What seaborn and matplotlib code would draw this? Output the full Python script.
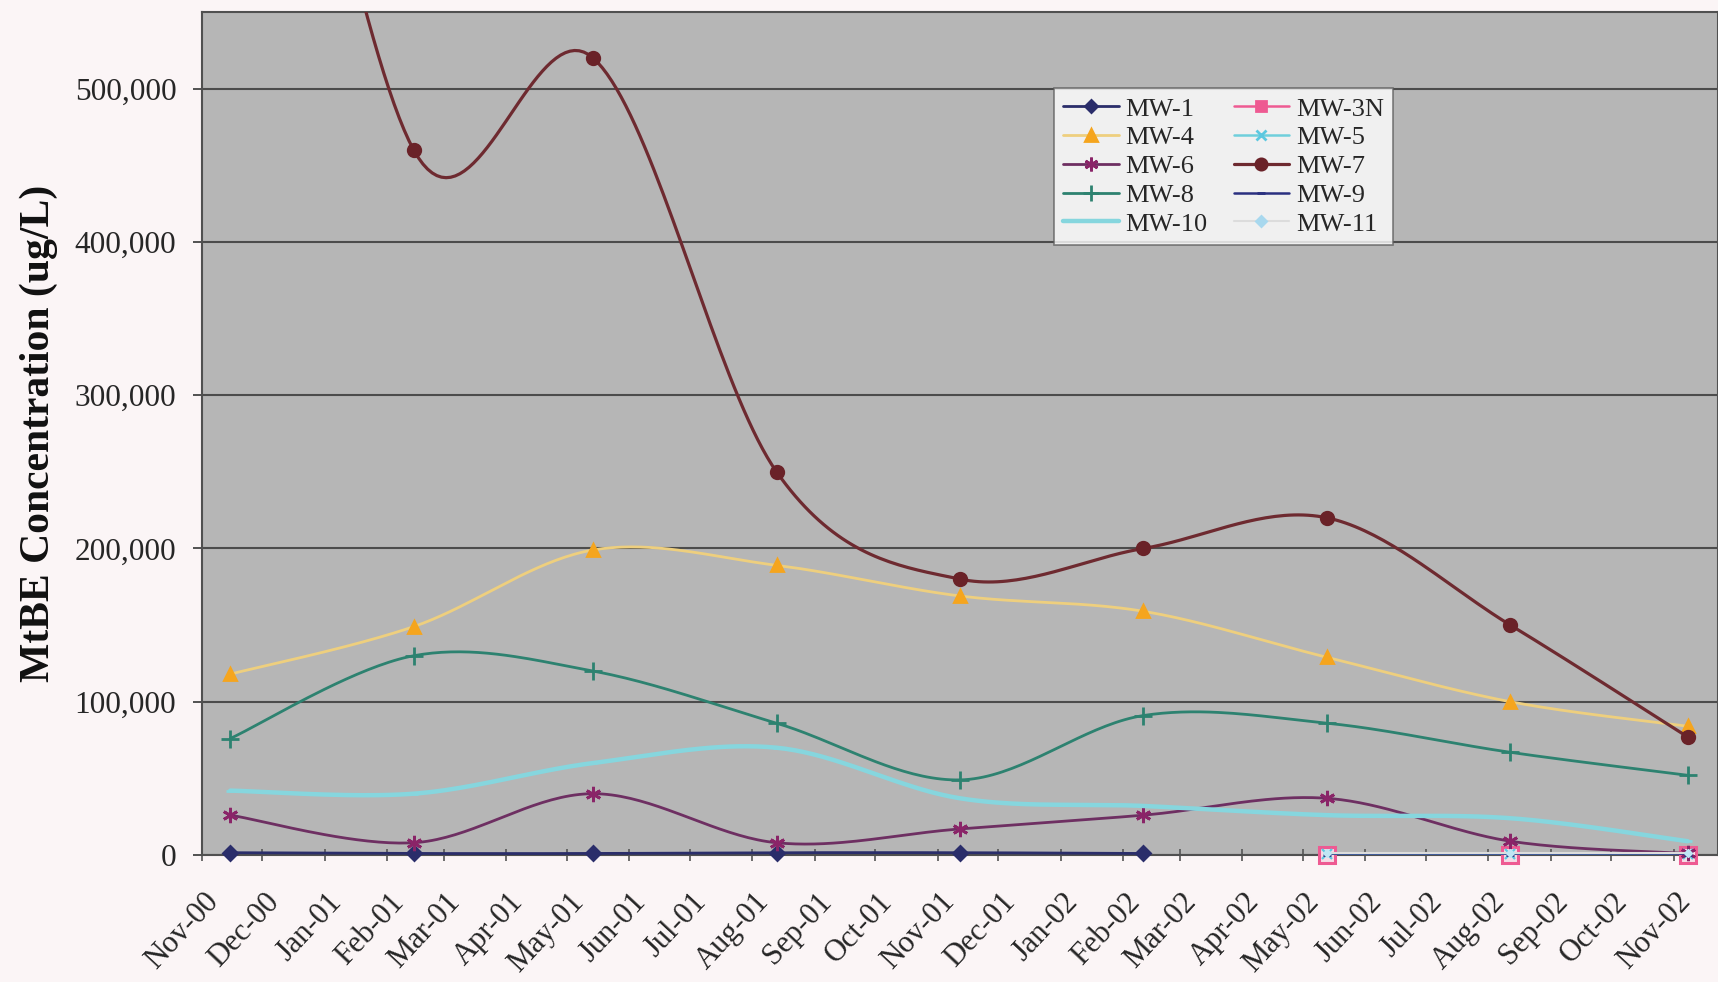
import numpy as np
import pandas as pd
import matplotlib
matplotlib.use("Agg")
import matplotlib.pyplot as plt
import matplotlib.dates as mdates
from matplotlib.lines import Line2D
from matplotlib.ticker import FuncFormatter, FixedLocator
from matplotlib.transforms import ScaledTranslation
import seaborn as sns

# Quarterly sampling events
sample_dates = ["2000-11-15", "2001-02-14", "2001-05-14", "2001-08-13", "2001-11-12",
                "2002-02-11", "2002-05-13", "2002-08-12", "2002-11-08"]

wells = ["MW-1", "MW-3N", "MW-4", "MW-5", "MW-6", "MW-7", "MW-8", "MW-9", "MW-10", "MW-11"]

nan = np.nan
mw1 = [1500, 1000, 1000, 1500, 1500, 1000, nan, nan, nan]
mw3n = [nan, nan, nan, nan, nan, nan, 0, 0, 0]
mw4 = [118000, 149000, 199000, 189000, 169000, 159000, 129000, 100000, 84000]
mw5 = [nan, nan, nan, nan, nan, nan, 500, 500, 500]
mw6 = [26000, 8000, 40000, 8000, 17000, 26000, 37000, 9000, 1000]
mw7 = [950000, 460000, 520000, 250000, 180000, 200000, 220000, 150000, 77000]
mw8 = [76000, 130000, 120000, 86000, 49000, 91000, 86000, 67000, 52000]
mw9 = [nan, nan, nan, nan, nan, nan, 0, 0, 0]
mw10 = [42000, 40000, 60000, 70000, 37000, 32000, 26000, 24000, 9000]
mw11 = [nan, nan, nan, nan, nan, nan, 1000, 1000, 1000]

y_ticks = [0, 100000, 200000, 300000, 400000, 500000]
Y_MAX = 550000

series = dict(zip(wells, [mw1, mw3n, mw4, mw5, mw6, mw7, mw8, mw9, mw10, mw11]))

# line colour, marker, marker face / edge colour, marker size, line width
styles = {
    "MW-1":  dict(c="#2a2d6a", m="D", fc="#2a2d6a", ec="#2a2d6a", ms=7, lw=2.0),
    "MW-3N": dict(c="#ee5a92", m="s", fc="#ee5a92", ec="#ee5a92", ms=8, lw=1.8),
    "MW-4":  dict(c="#eecf7e", m="^", fc="#f5a51e", ec="#f5a51e", ms=9, lw=2.0),
    "MW-5":  dict(c="#6fcfdc", m="x", fc="#5cc8e0", ec="#5cc8e0", ms=8, lw=1.8),
    "MW-6":  dict(c="#6e2f62", m=(6, 2, 0), fc="#8a2468", ec="#8a2468", ms=11, lw=2.0),
    "MW-7":  dict(c="#6e2a30", m="o", fc="#6a2228", ec="#6a2228", ms=9, lw=2.3),
    "MW-8":  dict(c="#2d8270", m="+", fc="#2d8270", ec="#2d8270", ms=13, lw=2.0),
    "MW-9":  dict(c="#2a3080", m="_", fc="#2a3080", ec="#2a3080", ms=6, lw=1.8),
    "MW-10": dict(c="#86d6de", m="_", fc="#86d6de", ec="#86d6de", ms=6, lw=3.2),
    "MW-11": dict(c="#dcdcdc", m="D", fc="#a8d8ee", ec="#a8d8ee", ms=6, lw=1.5),
}

# marker look on the chart itself where several new wells share the zero line
chart_marker = {
    "MW-3N": dict(ms=11, fc="#f4dce6", ec="#ee5a92", mew=2.2),
    "MW-5": dict(ms=7, fc="#5cc8e0", ec="#5cc8e0", mew=1.6),
    "MW-11": dict(ms=4, fc="#bfe6f4", ec="#bfe6f4", mew=1.0),
}


def smooth_curve(x, y, n=40):
    """Catmull-Rom style cubic Bezier through the points (spreadsheet 'smoothed line')."""
    pts = np.column_stack([x, y]).astype(float)
    segs = []
    for i in range(len(pts) - 1):
        p0 = pts[max(i - 1, 0)]
        p1 = pts[i]
        p2 = pts[i + 1]
        p3 = pts[min(i + 2, len(pts) - 1)]
        c1 = p1 + (p2 - p0) / 6.0
        c2 = p2 - (p3 - p1) / 6.0
        t = np.linspace(0, 1, n)[:, None]
        seg = (1 - t) ** 3 * p1 + 3 * (1 - t) ** 2 * t * c1 + 3 * (1 - t) * t ** 2 * c2 + t ** 3 * p2
        segs.append(seg if i == 0 else seg[1:])
    return np.vstack(segs)


sns.set_theme(style="white")
plt.rcParams["font.family"] = ["Liberation Serif", "DejaVu Serif"]

W, H = 1718, 982
fig = plt.figure(figsize=(W / 100, H / 100), dpi=100)
fig.patch.set_facecolor("#fbf5f6")

ax_left, ax_right, ax_top, ax_bottom = 202, 1718, 12, 855
ax = fig.add_axes([ax_left / W, 1 - ax_bottom / H, (ax_right - ax_left) / W, (ax_bottom - ax_top) / H])
ax.set_facecolor("#b6b6b6")

xnum = mdates.date2num(pd.to_datetime(sample_dates))

for z, well in enumerate(wells):
    vals = np.array(series[well], dtype=float)
    ok = ~np.isnan(vals)
    xs, ys = xnum[ok], vals[ok]
    st = styles[well]
    if len(xs) > 1:
        curve = smooth_curve(xs, ys)
        df = pd.DataFrame({"x": curve[:, 0], "y": curve[:, 1]})
        sns.lineplot(data=df, x="x", y="y", ax=ax, color=st["c"], linewidth=st["lw"],
                     sort=False, estimator=None, zorder=3 + z)
    cm = chart_marker.get(well, dict(ms=st["ms"], fc=st["fc"], ec=st["ec"], mew=2))
    # markers sitting on the axis line are drawn whole, not cut in half
    ax.plot(xs, ys, linestyle="none", marker=st["m"], markersize=cm["ms"],
            markerfacecolor=cm["fc"], markeredgecolor=cm["ec"], markeredgewidth=cm["mew"],
            zorder=3.5 + z, clip_on=bool(ys.max() > Y_MAX))

# axes ranges
ax.set_xlim(mdates.date2num(pd.Timestamp("2000-11-01")), mdates.date2num(pd.Timestamp("2002-11-23")))
ax.set_ylim(0, Y_MAX)

# y axis
ax.yaxis.set_major_locator(FixedLocator(y_ticks))
ax.yaxis.set_major_formatter(FuncFormatter(lambda v, p: f"{int(v):,}"))
ax.grid(axis="y", color="#4c4c4c", linewidth=1.5, zorder=1)
ax.set_axisbelow(True)
ax.tick_params(axis="y", direction="out", length=6.5, width=1.3, color="#444444",
               labelsize=22.5, pad=12, left=True)

# x axis: month ticks
month_ticks = pd.date_range("2000-11-01", "2002-11-01", freq="MS")
ax.set_xticks(mdates.date2num(month_ticks))
ax.set_xticklabels([d.strftime("%b-%y") for d in month_ticks])
ax.tick_params(axis="x", direction="inout", length=9, width=1.2, color="#555555",
               labelsize=22, pad=26, bottom=True)
for lbl in ax.get_xticklabels():
    lbl.set_rotation(47)
    lbl.set_ha("right")
    lbl.set_va("center")
    lbl.set_rotation_mode("anchor")
    lbl.set_transform(lbl.get_transform() + ScaledTranslation(12 / 100, 0, fig.dpi_scale_trans))

for sp in ax.spines.values():
    sp.set_color("#505050")
    sp.set_linewidth(1.5)

ax.set_xlabel("")
ax.set_ylabel("MtBE Concentration (ug/L)", fontsize=30, fontweight="bold", color="#111111")
ax.yaxis.set_label_coords(-0.095, 0.5)

# legend
handles = []
for well in wells:
    st = styles[well]
    handles.append(Line2D([0], [0], color=st["c"], linewidth=st["lw"], marker=st["m"],
                          markersize=st["ms"] * 0.9, markerfacecolor=st["fc"],
                          markeredgecolor=st["ec"], markeredgewidth=2))
order = [0, 2, 4, 6, 8, 1, 3, 5, 7, 9]
leg = ax.legend([handles[i] for i in order], [wells[i] for i in order], ncol=2,
                loc="upper left", bbox_to_anchor=(0.562, 0.910), borderaxespad=0,
                fontsize=19, frameon=True, fancybox=False, handlelength=2.1,
                handletextpad=0.25, columnspacing=1.0, labelspacing=0.2, borderpad=0.35)
leg.get_frame().set_facecolor("white")
leg.get_frame().set_edgecolor("#606060")
leg.get_frame().set_linewidth(1.2)
leg.set_zorder(20)

fig.savefig("out.png", dpi=100, facecolor=fig.get_facecolor())
